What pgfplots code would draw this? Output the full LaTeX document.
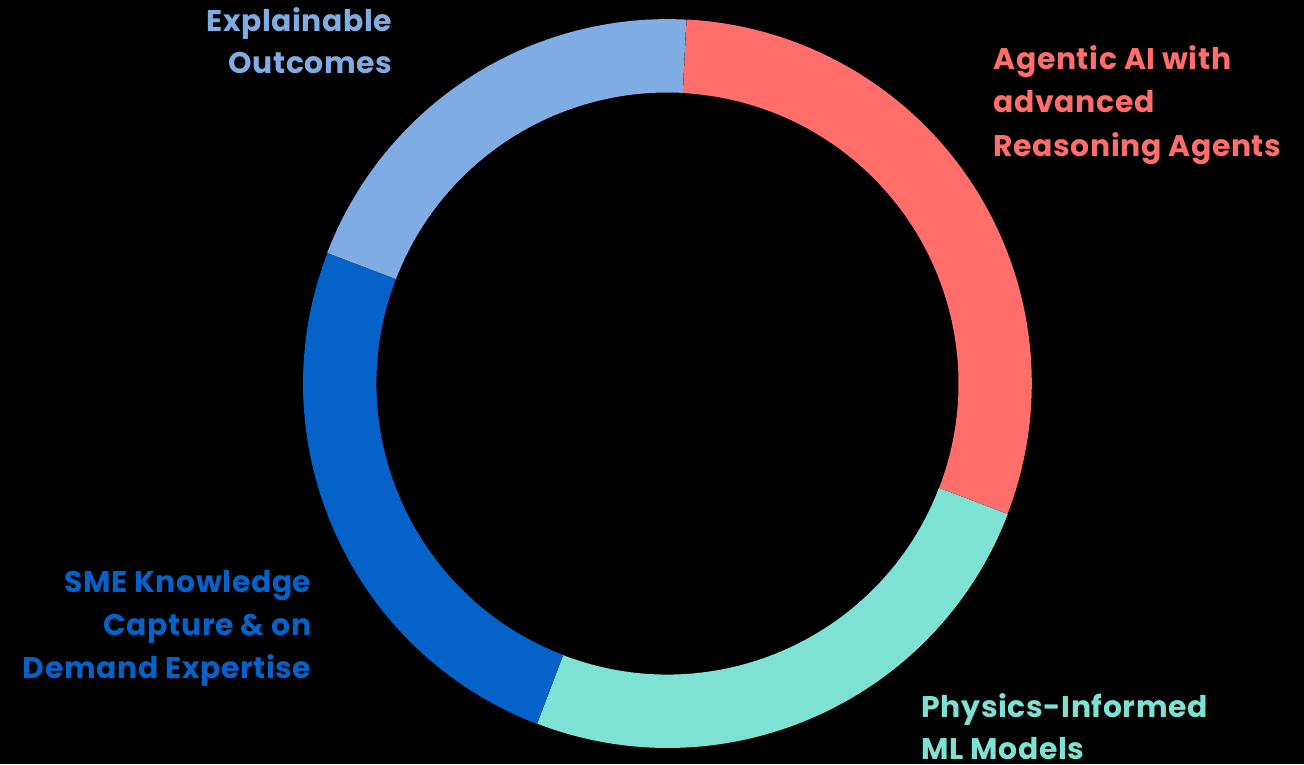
\documentclass[border=0pt]{standalone}
\usepackage{fontspec}
\usepackage{pgfplots}
\usepackage{pgfplotstable}
\pgfplotsset{compat=1.18}
\newfontfamily\labelfont{Poppins}[LetterSpace=2]

\definecolor{cRed}{HTML}{FF6E6B}
\definecolor{cTeal}{HTML}{7DE1D4}
\definecolor{cDark}{HTML}{0562C8}
\definecolor{cLight}{HTML}{7FACE3}

% slice shares, clockwise from the top
\pgfplotstableread{
name value
Agentic 30
Physics 25
SME 25
Explainable 20
}\slices

% centre and radii in pixel units (1 unit = 0.01cm)
\def\cx{667.5}
\def\cy{380.5}
\def\Ro{364.5}
\def\Ri{291}
\pgfplotstablegetelem{0}{value}\of\slices \let\vA\pgfplotsretval
\pgfplotstablegetelem{1}{value}\of\slices \let\vB\pgfplotsretval
\pgfplotstablegetelem{2}{value}\of\slices \let\vC\pgfplotsretval
\pgfplotstablegetelem{3}{value}\of\slices \let\vD\pgfplotsretval
\pgfmathsetmacro\total{\vA+\vB+\vC+\vD}
\pgfmathsetmacro\aA{87}
\pgfmathsetmacro\aB{\aA-360*\vA/\total}
\pgfmathsetmacro\aC{\aB-360*\vB/\total}
\pgfmathsetmacro\aD{\aC-360*\vC/\total}
\pgfmathsetmacro\aE{\aD-360*\vD/\total}

\newcommand\sector[3]{%
  \fill[#1] ({\cx+\Ro*cos(#2)},{\cy+\Ro*sin(#2)})
    arc[start angle=#2, end angle=#3, radius=\Ro*0.01cm]
    -- ({\cx+\Ri*cos(#3)},{\cy+\Ri*sin(#3)})
    arc[start angle=#3, end angle=#2, radius=\Ri*0.01cm] -- cycle;}

\begin{document}
\begin{tikzpicture}[lbl/.style={font=\labelfont\bfseries\fontsize{8.5}{10}\selectfont, inner sep=0pt}]
\begin{axis}[
  width=13.04cm, height=7.64cm, scale only axis,
  xmin=0, xmax=1304, ymin=0, ymax=764,
  hide axis, clip=false,
]
\fill[black] (0,0) rectangle (1304,764);
\sector{cRed}{\aA}{\aB}
\sector{cTeal}{\aB}{\aC}
\sector{cDark}{\aC}{\aD}
\sector{cLight}{\aD}{\aE}

\node[lbl, cLight, anchor=base east] at (393,732) {Explainable};
\node[lbl, cLight, anchor=base east] at (393,690) {Outcomes};

\node[lbl, cRed, anchor=base west] at (993,694) {Agentic AI with};
\node[lbl, cRed, anchor=base west] at (993,651) {advanced};
\node[lbl, cRed, anchor=base west] at (993,607) {Reasoning Agents};

\node[lbl, cDark, anchor=base east] at (312,172) {SME Knowledge};
\node[lbl, cDark, anchor=base east] at (312,129) {Capture \& on};
\node[lbl, cDark, anchor=base east] at (312,86) {Demand Expertise};

\node[lbl, cTeal, anchor=base west] at (921,47) {Physics-Informed};
\node[lbl, cTeal, anchor=base west] at (921,5) {ML Models};
\end{axis}
\pgfresetboundingbox
\path (current axis.south west) rectangle (current axis.north east);
\end{tikzpicture}
\end{document}
